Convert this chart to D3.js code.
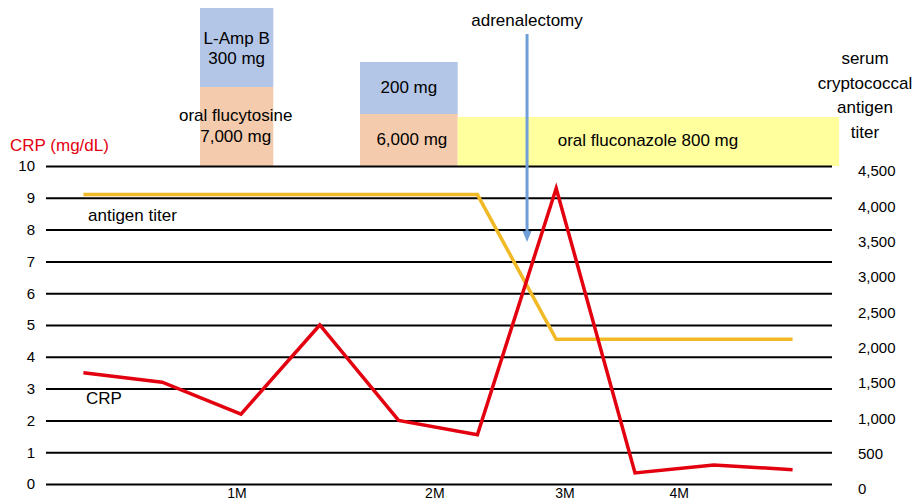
<!DOCTYPE html>
<html>
<head>
<meta charset="utf-8">
<script src="https://cdn.jsdelivr.net/npm/d3@7"></script>
<style>
html,body{margin:0;padding:0;background:#fff;}
svg{display:block;font-family:"Liberation Sans",Arial,sans-serif;}
</style>
</head>
<body>
<svg id="chart" width="914" height="500"></svg>
<script>
// ---- data ----
const points = [0,1,2,3,4,5,6,7,8,9];
const crp = [3.5, 3.2, 2.2, 5.0, 2.0, 1.55, 9.3, 0.35, 0.6, 0.45];
const titer = [4096, 4096, 4096, 4096, 4096, 4096, 2048, 2048, 2048, 2048];
const crpTicks = [0,1,2,3,4,5,6,7,8,9,10];
const titerTicks = [0,500,1000,1500,2000,2500,3000,3500,4000,4500];
const monthLabels = ["1M","2M","3M","4M"];
const monthPos = [2.45, 4.96, 6.61, 8.06];
const amphoB = {start: 1.98, end: 2.91, labels: ["L-Amp B","300 mg"]};
const flucyt1 = {start: 1.98, end: 2.91, labels: ["oral flucytosine","7,000 mg"]};
const amphoB2 = {start: 4.01, end: 5.25, labels: ["200 mg"]};
const flucyt2 = {start: 4.01, end: 5.25, labels: ["6,000 mg"]};
const fluconazole = {start: 5.25, end: 10.09, labels: ["oral fluconazole 800 mg"]};
const surgery = {at: 6.13, label: "adrenalectomy"};
const rightTitle = ["serum","cryptococcal","antigen","titer"];

// ---- scales ----
const svg = d3.select("#chart");
const xBand = d3.scaleBand().domain(points).range([44, 832]);
const xLin = d3.scaleLinear().domain([0,10]).range([44, 832]);
const xc = i => xBand(i) + xBand.bandwidth()/2;
const yL = d3.scaleLinear().domain([0,10]).range([484, 166]);
const yR = d3.scaleLinear().domain([0,4500]).range([484, 166]);

const red = "#e3000f", gold = "#f2b927", blue = "#6e9fd7";
const boxBlue = "#b4c6e7", boxOrange = "#f4cbad", boxYellow = "#ffff9d";

// ---- treatment boxes ----
function box(o, top, bottom, fill){
  svg.append("rect").attr("x", xLin(o.start)).attr("y", top)
    .attr("width", xLin(o.end)-xLin(o.start)).attr("height", bottom-top).attr("fill", fill);
}
box(amphoB, 8, 87, boxBlue);
box(flucyt1, 87, yL(10), boxOrange);
box(amphoB2, 62, 114, boxBlue);
box(flucyt2, 114, yL(10), boxOrange);
box(fluconazole, 117, yL(10), boxYellow);

function label(lines, cx, firstY, dy, size, anchor, color){
  const t = svg.append("text").attr("text-anchor", anchor||"middle")
    .attr("font-size", size).attr("fill", color||"#000");
  lines.forEach((l,i)=>t.append("tspan").attr("x", cx).attr("y", firstY + i*dy).text(l));
}
label(amphoB.labels, xLin((amphoB.start+amphoB.end)/2), 44, 20, 17);
label(flucyt1.labels, xLin((flucyt1.start+flucyt1.end)/2)-1, 121, 21, 17);
label(amphoB2.labels, xLin((amphoB2.start+amphoB2.end)/2), 93, 20, 17);
label(flucyt2.labels, xLin((flucyt2.start+flucyt2.end)/2)+3, 145, 20, 17);
label(fluconazole.labels, 648, 146, 20, 17);

// ---- gridlines (axes) ----
const gAx = svg.append("g").attr("transform","translate(46,0)")
  .call(d3.axisLeft(yL).tickValues(crpTicks).tickSize(-786).tickFormat(d3.format("d")).tickPadding(11));
gAx.select(".domain").remove();
gAx.selectAll(".tick line").attr("stroke","#000").attr("stroke-width",2);
gAx.selectAll(".tick text").attr("font-size",15).attr("fill","#000")
  .attr("font-family","'Liberation Sans',Arial,sans-serif");

const gR = svg.append("g").attr("transform","translate(858,5)")
  .call(d3.axisRight(yR).tickValues(titerTicks).tickSize(0).tickPadding(0).tickFormat(d3.format(",")));
gR.select(".domain").remove();
gR.selectAll(".tick text").attr("font-size",15).attr("fill","#000")
  .attr("font-family","'Liberation Sans',Arial,sans-serif");

// month labels
svg.append("g").selectAll("text").data(monthLabels).join("text")
  .attr("x",(d,i)=>xLin(monthPos[i])).attr("y",497.5).attr("text-anchor","middle")
  .attr("font-size",14).text(d=>d);

// ---- lines ----
svg.append("path").datum(titer)
  .attr("d", d3.line().x((d,i)=>xc(points[i])).y(d=>yR(d)))
  .attr("fill","none").attr("stroke",gold).attr("stroke-width",3.5).attr("stroke-linejoin","miter");
svg.append("path").datum(crp)
  .attr("d", d3.line().x((d,i)=>xc(points[i])).y(d=>yL(d)))
  .attr("fill","none").attr("stroke",red).attr("stroke-width",3.5).attr("stroke-linejoin","miter");

// ---- adrenalectomy arrow ----
const ax = xLin(surgery.at);
svg.append("line").attr("x1",ax).attr("x2",ax).attr("y1",34).attr("y2",234)
  .attr("stroke",blue).attr("stroke-width",3);
svg.append("path").attr("d",`M${ax-4.5},231 L${ax+4.5},231 L${ax},242 Z`).attr("fill",blue);
label([surgery.label], ax, 26, 0, 17);

// ---- axis titles and series labels ----
label(["CRP (mg/dL)"], 10, 151, 0, 17, "start", red);
label(rightTitle, 865, 64, 24.7, 17);
label(["antigen titer"], 88, 221, 0, 17, "start");
label(["CRP"], 86, 404, 0, 17, "start");
</script>
</body>
</html>
